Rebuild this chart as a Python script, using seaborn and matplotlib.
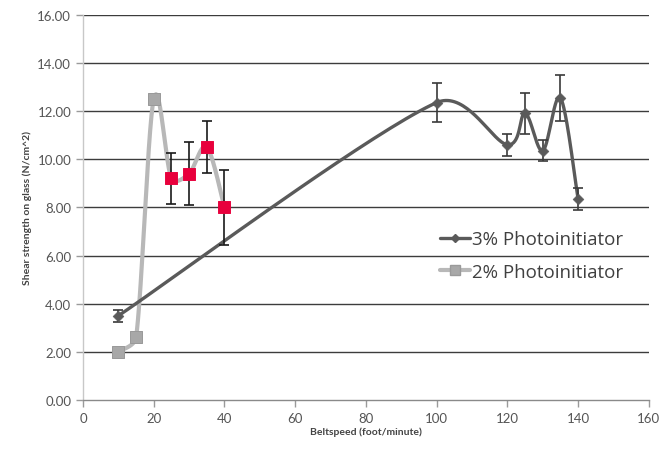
import numpy as np
import pandas as pd
import matplotlib
matplotlib.use("Agg")
import matplotlib.pyplot as plt
from matplotlib.lines import Line2D
import seaborn as sns

# Belt speed (foot/minute) and shear strength (N/cm^2)
speed_3pct = [10, 100, 120, 125, 130, 135, 140]
shear_3pct = [3.5, 12.35, 10.6, 11.9, 10.35, 12.55, 8.35]
err_3pct = [0.25, 0.8, 0.45, 0.85, 0.43, 0.95, 0.45]

speed_2pct = [10, 15, 20, 25, 30, 35, 40]
shear_2pct = [2.0, 2.6, 12.5, 9.2, 9.4, 10.5, 8.0]
err_2pct = [0.0, 0.0, 0.0, 1.05, 1.3, 1.07, 1.55]
highlight_2pct = [False, False, False, True, True, True, True]

x_ticks = [0, 20, 40, 60, 80, 100, 120, 140, 160]
y_ticks = [0, 2, 4, 6, 8, 10, 12, 14, 16]
series_names = ["3% Photoinitiator", "2% Photoinitiator"]

# screen units per data unit, so the smoothing behaves like an on-screen curve
SX, SY = 3.55, 24.0


def smooth_curve(xs, ys, n=40):
    """Bezier smoothing through every point; tangent handles are capped by segment length."""
    p = np.column_stack([np.asarray(xs, float) * SX, np.asarray(ys, float) * SY])
    m = len(p)
    seglen = np.linalg.norm(np.diff(p, axis=0), axis=1)

    def handle(i, L):
        # tangent at point i, length limited relative to the segment it feeds
        a = p[max(i - 1, 0)]
        b = p[min(i + 1, m - 1)]
        d = b - a
        nd = np.linalg.norm(d)
        if nd == 0:
            return np.zeros(2)
        length = min(nd / 6.0, 0.4 * L)
        return d / nd * length

    out = []
    for i in range(m - 1):
        p1, p2 = p[i], p[i + 1]
        L = seglen[i]
        c1 = p1 + handle(i, L)
        c2 = p2 - handle(i + 1, L)
        t = np.linspace(0, 1, n)[:, None]
        seg = ((1 - t) ** 3) * p1 + 3 * ((1 - t) ** 2) * t * c1 + 3 * (1 - t) * t ** 2 * c2 + t ** 3 * p2
        out.append(seg if i == 0 else seg[1:])
    arr = np.vstack(out)
    return pd.DataFrame({"x": arr[:, 0] / SX, "y": arr[:, 1] / SY, "order": np.arange(len(arr))})


sns.set_style("white")
plt.rcParams["font.family"] = ["Lato", "DejaVu Sans"]

fig = plt.figure(figsize=(6.61, 4.52), dpi=100)
ax = fig.add_axes([0.1256, 0.1128, 0.8560, 0.8525])

dark = "#5a5a5a"
light = "#b8b8b8"
red = "#e8003c"

# horizontal gridlines
for yv in y_ticks[1:]:
    ax.axhline(yv, color="#3c3c3c", lw=1.0, zorder=1)

# 2% series: smoothed line
c2 = smooth_curve(speed_2pct, shear_2pct)
sns.lineplot(data=c2, x="x", y="y", sort=False, estimator=None, color=light,
             lw=3.0, ax=ax, zorder=2)
# 3% series: smoothed line
c3 = smooth_curve(speed_3pct, shear_3pct)
sns.lineplot(data=c3, x="x", y="y", sort=False, estimator=None, color=dark,
             lw=2.4, ax=ax, zorder=3)

# error bars
ax.errorbar(speed_3pct, shear_3pct, yerr=err_3pct, fmt="none", ecolor="#3a3a3a",
            elinewidth=1.2, capsize=3.5, capthick=1.2, zorder=4)
hx = [x for x, h in zip(speed_2pct, highlight_2pct) if h]
hy = [y for y, h in zip(shear_2pct, highlight_2pct) if h]
he = [e for e, h in zip(err_2pct, highlight_2pct) if h]
ax.errorbar(hx, hy, yerr=he, fmt="none", ecolor="#1a1a1a",
            elinewidth=1.2, capsize=3.5, capthick=1.2, zorder=4)

# markers
df3 = pd.DataFrame({"x": speed_3pct, "y": shear_3pct})
sns.scatterplot(data=df3, x="x", y="y", marker="D", s=30, color=dark,
                edgecolor=dark, ax=ax, zorder=5)
df2 = pd.DataFrame({"x": speed_2pct, "y": shear_2pct, "hl": highlight_2pct})
sns.scatterplot(data=df2[~df2.hl], x="x", y="y", marker="s", s=80, color="#a8a8a8",
                edgecolor="#9a9a9a", ax=ax, zorder=5)
sns.scatterplot(data=df2[df2.hl], x="x", y="y", marker="s", s=70, color=red,
                edgecolor=red, ax=ax, zorder=6)

ax.set_xlim(0, 160)
ax.set_ylim(0, 16)
ax.set_xticks(x_ticks)
ax.set_xticklabels([str(v) for v in x_ticks])
ax.set_yticks(y_ticks)
ax.set_yticklabels([f"{v:.2f}" for v in y_ticks])
ax.tick_params(axis="both", labelsize=9.5, colors="#9a9a9a",
               length=5, width=1, direction="out", left=True, bottom=True)
ax.tick_params(axis="both", labelcolor="#555555")

for side in ["top", "right"]:
    ax.spines[side].set_visible(False)
ax.spines["left"].set_color("#c8c8c8")
ax.spines["bottom"].set_color("#8a8a8a")
ax.spines["left"].set_linewidth(1.0)
ax.spines["bottom"].set_linewidth(1.0)

ax.set_xlabel("Beltspeed (foot/minute)", fontsize=7.5, fontweight="bold",
              color="#444444", labelpad=2)
ax.set_ylabel("Shear strength on glass (N/cm^2)", fontsize=7.5, fontweight="bold",
              color="#444444", labelpad=4)

handles = [
    Line2D([], [], color=dark, lw=2.4, marker="D", markersize=4.0),
    Line2D([], [], color=light, lw=3.0, marker="s", markersize=7,
           markerfacecolor="#a8a8a8", markeredgecolor="#9a9a9a"),
]
leg = ax.legend(handles, series_names, loc="center right", bbox_to_anchor=(0.985, 0.375),
                frameon=False, prop={"family": ["Open Sans", "DejaVu Sans"], "size": 13.5},
                handlelength=1.6, handletextpad=0.1, labelspacing=0.75)
for t in leg.get_texts():
    t.set_color("#404040")

fig.savefig("out.png", dpi=100, facecolor="white")
